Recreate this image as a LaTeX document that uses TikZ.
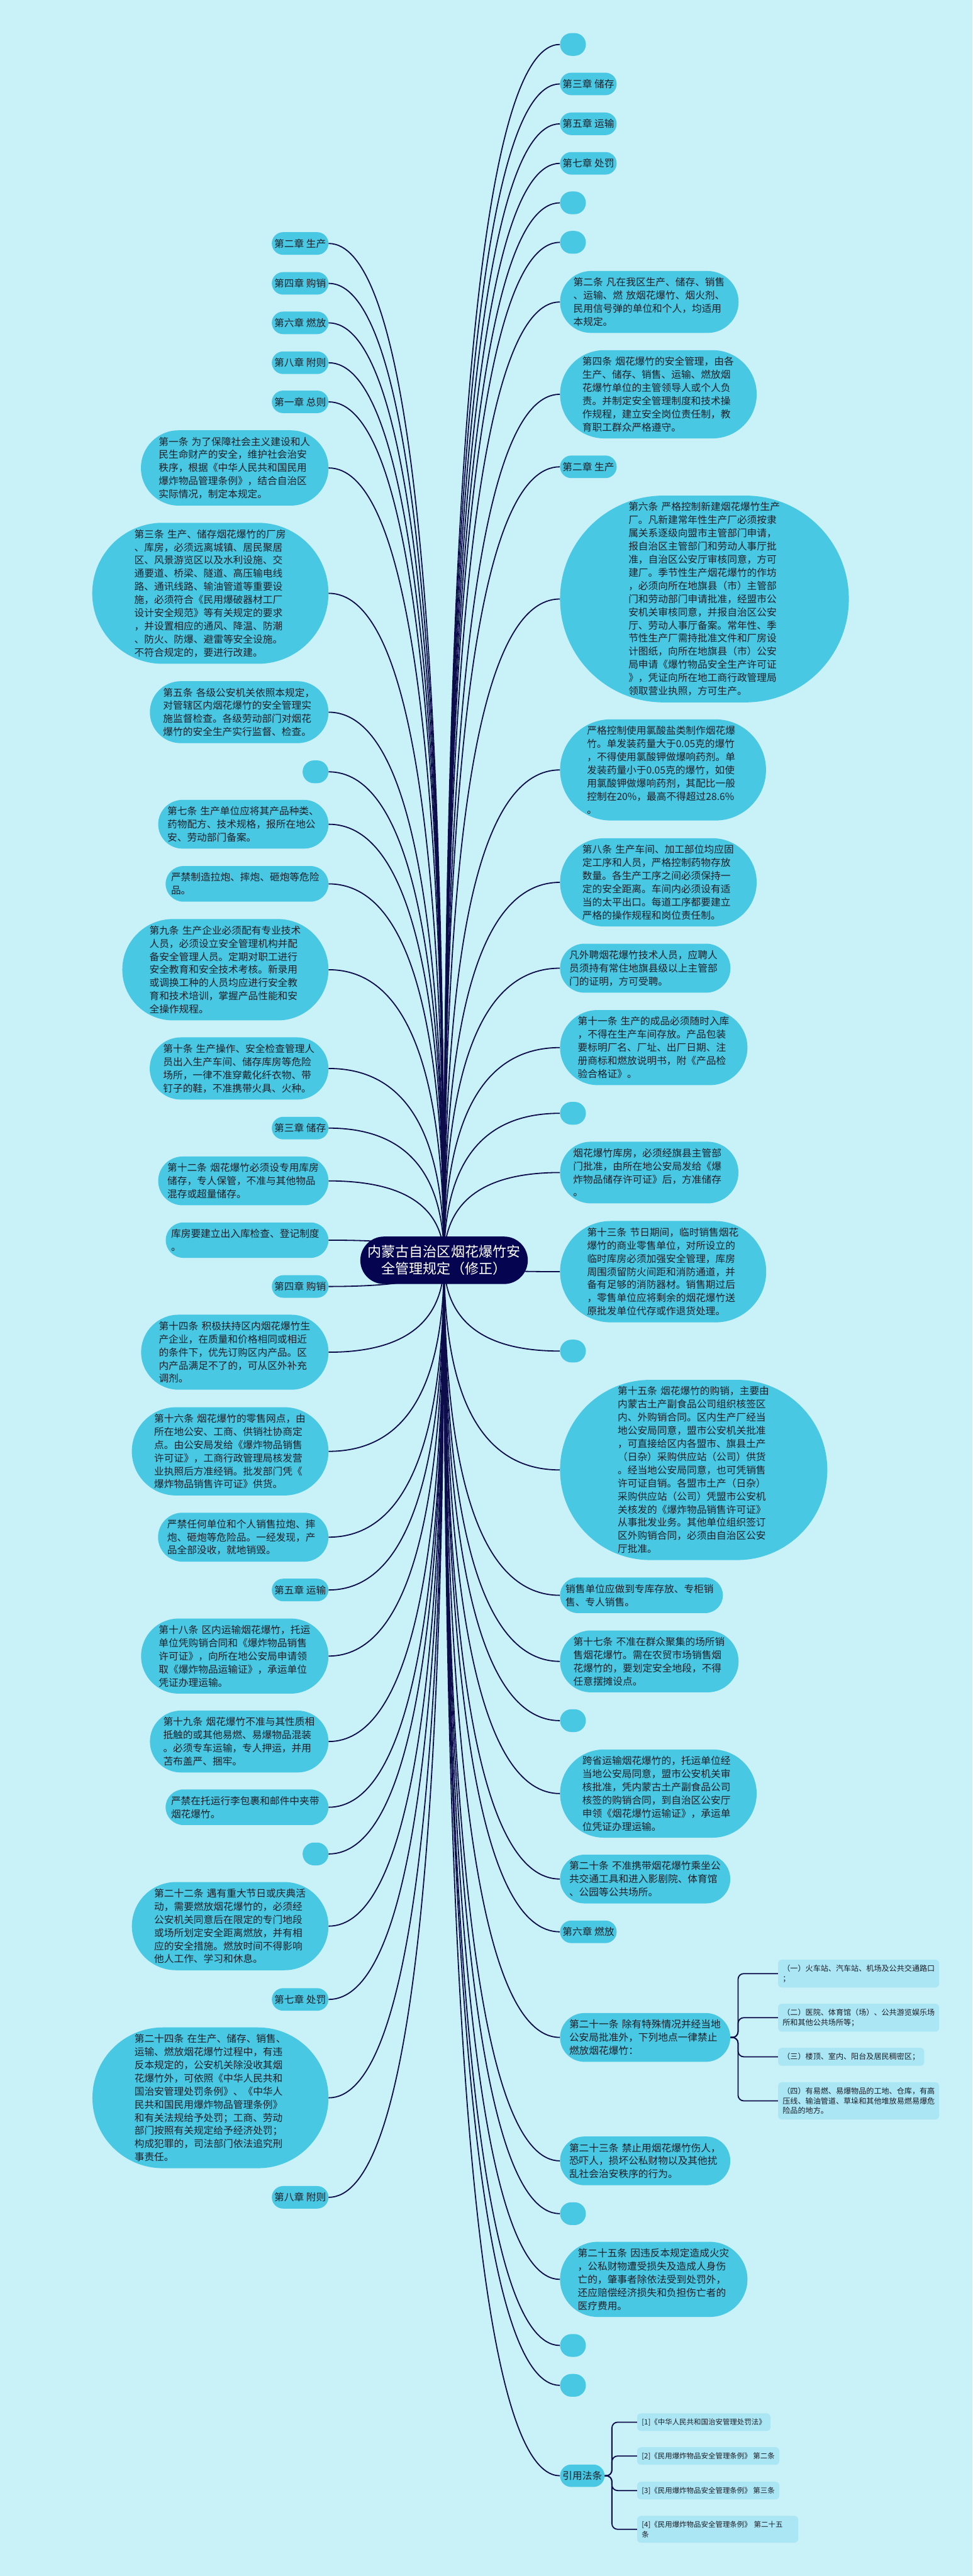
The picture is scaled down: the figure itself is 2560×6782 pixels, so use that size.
\documentclass[tikz,border=0pt]{standalone}
\usepackage{fontspec}
\setmainfont{Noto Sans CJK SC}
\usetikzlibrary{calc, shapes.misc, backgrounds}
\definecolor{BgCyan}{RGB}{201,241,248}
\definecolor{NodeCyan}{RGB}{72,200,226}
\definecolor{PaleCyan}{RGB}{170,230,243}
\definecolor{DarkNavy}{RGB}{4,4,80}
\definecolor{LinkNavy}{RGB}{12,12,74}
\definecolor{InkText}{RGB}{30,30,40}

\begin{document}
\begin{tikzpicture}[x=0.02cm, y=-0.02cm,
  link/.style={LinkNavy, line width=0.06cm},
  leaf/.style={rounded rectangle, fill=NodeCyan, text=InkText, align=left,
    inner xsep=0.08cm, inner ysep=0.35cm, font=\fontsize{14.8pt}{19.7pt}\selectfont},
  para/.style={leaf, text width=8cm},
  blank/.style={leaf, minimum width=1.36cm, minimum height=1.2cm, inner sep=0pt},
  sub/.style={rectangle, rounded corners=0.2cm, fill=PaleCyan, text=InkText, align=left,
    inner xsep=0.24cm, inner ysep=0.27cm, font=\fontsize{11.4pt}{14.8pt}\selectfont},
  root/.style={rounded rectangle, fill=DarkNavy, text=white, align=center,
    inner xsep=0.1cm, inner ysep=0.45cm, font=\fontsize{20.8pt}{26pt}\selectfont}]

\useasboundingbox (0,0) rectangle (2560,6782);

% nodo central
\node[root] (root) at (1169,3318) {内蒙古自治区烟花爆竹安\\全管理规定（修正）};

% ramas izquierda (anchor east en x=865)
\node[leaf, anchor=east] (l1) at (865,641) {第二章 生产};
\node[leaf, anchor=east] (l2) at (865,746) {第四章 购销};
\node[leaf, anchor=east] (l3) at (865,850) {第六章 燃放};
\node[leaf, anchor=east] (l4) at (865,955) {第八章 附则};
\node[leaf, anchor=east] (l5) at (865,1058) {第一章 总则};
\node[para, anchor=east] (l6) at (865,1232) {第一条 为了保障社会主义建设和人\\民生命财产的安全，维护社会治安\\秩序，根据《中华人民共和国民用\\爆炸物品管理条例》，结合自治区\\实际情况，制定本规定。};
\node[para, anchor=east] (l7) at (865,1562) {第三条 生产、储存烟花爆竹的厂房\\、库房，必须远离城镇、居民聚居\\区、风景游览区以及水利设施、交\\通要道、桥梁、隧道、高压输电线\\路、通讯线路、输油管道等重要设\\施，必须符合《民用爆破器材工厂\\设计安全规范》等有关规定的要求\\，并设置相应的通风、降温、防潮\\、防火、防爆、避雷等安全设施。\\不符合规定的，要进行改建。};
\node[para, anchor=east] (l8) at (865,1875) {第五条 各级公安机关依照本规定，\\对管辖区内烟花爆竹的安全管理实\\施监督检查。各级劳动部门对烟花\\爆竹的安全生产实行监督、检查。};
\node[blank, anchor=east] (l9) at (865,2032) {};
\node[para, anchor=east] (l10) at (865,2170) {第七条 生产单位应将其产品种类、\\药物配方、技术规格，报所在地公\\安、劳动部门备案。};
\node[para, anchor=east] (l11) at (865,2327) {严禁制造拉炮、摔炮、砸炮等危险\\品。};
\node[para, anchor=east] (l12) at (865,2553) {第九条 生产企业必须配有专业技术\\人员，必须设立安全管理机构并配\\备安全管理人员。定期对职工进行\\安全教育和安全技术考核。新录用\\或调换工种的人员均应进行安全教\\育和技术培训，掌握产品性能和安\\全操作规程。};
\node[para, anchor=east] (l13) at (865,2813) {第十条 生产操作、安全检查管理人\\员出入生产车间、储存库房等危险\\场所，一律不准穿戴化纤衣物、带\\钉子的鞋，不准携带火具、火种。};
\node[leaf, anchor=east] (l14) at (865,2970) {第三章 储存};
\node[para, anchor=east] (l15) at (865,3109) {第十二条 烟花爆竹必须设专用库房\\储存，专人保管，不准与其他物品\\混存或超量储存。};
\node[para, anchor=east] (l16) at (865,3265) {库房要建立出入库检查、登记制度\\。};
\node[leaf, anchor=east] (l17) at (865,3387) {第四章 购销};
\node[para, anchor=east] (l18) at (865,3560) {第十四条 积极扶持区内烟花爆竹生\\产企业，在质量和价格相同或相近\\的条件下，优先订购区内产品。区\\内产品满足不了的，可从区外补充\\调剂。};
\node[para, anchor=east] (l19) at (865,3821) {第十六条 烟花爆竹的零售网点，由\\所在地公安、工商、供销社协商定\\点。由公安局发给《爆炸物品销售\\许可证》，工商行政管理局核发营\\业执照后方准经销。批发部门凭《\\爆炸物品销售许可证》供货。};
\node[para, anchor=east] (l20) at (865,4047) {严禁任何单位和个人销售拉炮、摔\\炮、砸炮等危险品。一经发现，产\\品全部没收，就地销毁。};
\node[leaf, anchor=east] (l21) at (865,4186) {第五章 运输};
\node[para, anchor=east] (l22) at (865,4360) {第十八条 区内运输烟花爆竹，托运\\单位凭购销合同和《爆炸物品销售\\许可证》，向所在地公安局申请领\\取《爆炸物品运输证》，承运单位\\凭证办理运输。};
\node[para, anchor=east] (l23) at (865,4585) {第十九条 烟花爆竹不准与其性质相\\抵触的或其他易燃、易爆物品混装\\。必须专车运输，专人押运，并用\\苫布盖严、捆牢。};
\node[para, anchor=east] (l24) at (865,4758) {严禁在托运行李包裹和邮件中夹带\\烟花爆竹。};
\node[blank, anchor=east] (l25) at (865,4881) {};
\node[para, anchor=east] (l26) at (865,5071) {第二十二条 遇有重大节日或庆典活\\动，需要燃放烟花爆竹的，必须经\\公安机关同意后在限定的专门地段\\或场所划定安全距离燃放，并有相\\应的安全措施。燃放时间不得影响\\他人工作、学习和休息。};
\node[leaf, anchor=east] (l27) at (865,5264) {第七章 处罚};
\node[para, anchor=east] (l28) at (865,5523) {第二十四条 在生产、储存、销售、\\运输、燃放烟花爆竹过程中，有违\\反本规定的，公安机关除没收其烟\\花爆竹外，可依照《中华人民共和\\国治安管理处罚条例》、《中华人\\民共和国民用爆炸物品管理条例》\\和有关法规给予处罚；工商、劳动\\部门按照有关规定给予经济处罚；\\构成犯罪的，司法部门依法追究刑\\事责任。};
\node[leaf, anchor=east] (l29) at (865,5785) {第八章 附则};

% ramas derecha (anchor west en x=1474)
\node[blank, anchor=west] (r1) at (1474,117) {};
\node[leaf, anchor=west] (r2) at (1474,221) {第三章 储存};
\node[leaf, anchor=west] (r3) at (1474,326) {第五章 运输};
\node[leaf, anchor=west] (r4) at (1474,430) {第七章 处罚};
\node[blank, anchor=west] (r5) at (1474,534) {};
\node[blank, anchor=west] (r6) at (1474,638) {};
\node[para, anchor=west] (r7) at (1474,795) {第二条 凡在我区生产、储存、销售\\、运输、燃 放烟花爆竹、烟火剂、\\民用信号弹的单位和个人，均适用\\本规定。};
\node[para, anchor=west] (r8) at (1474,1038) {第四条 烟花爆竹的安全管理，由各\\生产、储存、销售、运输、燃放烟\\花爆竹单位的主管领导人或个人负\\责。并制定安全管理制度和技术操\\作规程，建立安全岗位责任制，教\\育职工群众严格遵守。};
\node[leaf, anchor=west] (r9) at (1474,1229) {第二章 生产};
\node[para, anchor=west] (r10) at (1474,1577) {第六条 严格控制新建烟花爆竹生产\\厂。凡新建常年性生产厂必须按隶\\属关系逐级向盟市主管部门申请，\\报自治区主管部门和劳动人事厅批\\准，自治区公安厅审核同意，方可\\建厂。季节性生产烟花爆竹的作坊\\，必须向所在地旗县（市）主管部\\门和劳动部门申请批准，经盟市公\\安机关审核同意，并报自治区公安\\厅、劳动人事厅备案。常年性、季\\节性生产厂需持批准文件和厂房设\\计图纸，向所在地旗县（市）公安\\局申请《爆竹物品安全生产许可证\\》，凭证向所在地工商行政管理局\\领取营业执照，方可生产。};
\node[para, anchor=west] (r11) at (1474,2027) {严格控制使用氯酸盐类制作烟花爆\\竹。单发装药量大于0.05克的爆竹\\，不得使用氯酸钾做爆响药剂。单\\发装药量小于0.05克的爆竹，如使\\用氯酸钾做爆响药剂，其配比一般\\控制在20\%，最高不得超过28.6\%\\。};
\node[para, anchor=west] (r12) at (1474,2323) {第八条 生产车间、加工部位均应固\\定工序和人员，严格控制药物存放\\数量。各生产工序之间必须保持一\\定的安全距离。车间内必须设有适\\当的太平出口。每道工序都要建立\\严格的操作规程和岗位责任制。};
\node[para, anchor=west] (r13) at (1474,2549) {凡外聘烟花爆竹技术人员，应聘人\\员须持有常住地旗县级以上主管部\\门的证明，方可受聘。};
\node[para, anchor=west] (r14) at (1474,2758) {第十一条 生产的成品必须随时入库\\，不得在生产车间存放。产品包装\\要标明厂名、厂址、出厂日期、注\\册商标和燃放说明书，附《产品检\\验合格证》。};
\node[blank, anchor=west] (r15) at (1474,2931) {};
\node[para, anchor=west] (r16) at (1474,3087) {烟花爆竹库房，必须经旗县主管部\\门批准，由所在地公安局发给《爆\\炸物品储存许可证》后，方准储存\\。};
\node[para, anchor=west] (r17) at (1474,3348) {第十三条 节日期间，临时销售烟花\\爆竹的商业零售单位，对所设立的\\临时库房必须加强安全管理，库房\\周围须留防火间距和消防通道，并\\备有足够的消防器材。销售期过后\\，零售单位应将剩余的烟花爆竹送\\原批发单位代存或作退货处理。};
\node[blank, anchor=west] (r18) at (1474,3557) {};
\node[para, anchor=west] (r19) at (1474,3870) {第十五条 烟花爆竹的购销，主要由\\内蒙古土产副食品公司组织核签区\\内、外购销合同。区内生产厂经当\\地公安局同意，盟市公安机关批准\\，可直接给区内各盟市、旗县土产\\（日杂）采购供应站（公司）供货\\。经当地公安局同意，也可凭销售\\许可证自销。各盟市土产（日杂）\\采购供应站（公司）凭盟市公安机\\关核发的《爆炸物品销售许可证》\\从事批发业务。其他单位组织签订\\区外购销合同，必须由自治区公安\\厅批准。};
\node[para, anchor=west] (r20) at (1474,4200) {销售单位应做到专库存放、专柜销\\售、专人销售。};
\node[para, anchor=west] (r21) at (1474,4374) {第十七条 不准在群众聚集的场所销\\售烟花爆竹。需在农贸市场销售烟\\花爆竹的，要划定安全地段，不得\\任意摆摊设点。};
\node[blank, anchor=west] (r22) at (1474,4530) {};
\node[para, anchor=west] (r23) at (1474,4722) {跨省运输烟花爆竹的，托运单位经\\当地公安局同意，盟市公安机关审\\核批准，凭内蒙古土产副食品公司\\核签的购销合同，到自治区公安厅\\申领《烟花爆竹运输证》，承运单\\位凭证办理运输。};
\node[para, anchor=west] (r24) at (1474,4947) {第二十条 不准携带烟花爆竹乘坐公\\共交通工具和进入影剧院、体育馆\\、公园等公共场所。};
\node[leaf, anchor=west] (r25) at (1474,5086) {第六章 燃放};
\node[para, anchor=west] (r26) at (1474,5364) {第二十一条 除有特殊情况并经当地\\公安局批准外，下列地点一律禁止\\燃放烟花爆竹：};
\node[para, anchor=west] (r27) at (1474,5689) {第二十三条 禁止用烟花爆竹伤人，\\恐吓人，损坏公私财物以及其他扰\\乱社会治安秩序的行为。};
\node[blank, anchor=west] (r28) at (1474,5828) {};
\node[para, anchor=west] (r29) at (1474,6001) {第二十五条 因违反本规定造成火灾\\，公私财物遭受损失及造成人身伤\\亡的，肇事者除依法受到处罚外，\\还应赔偿经济损失和负担伤亡者的\\医疗费用。};
\node[blank, anchor=west] (r30) at (1474,6175) {};
\node[blank, anchor=west] (r31) at (1474,6280) {};
\node[leaf, anchor=west] (r32) at (1474,6518) {引用法条};

% hojas del art. 21
\node[sub, text width=8cm, anchor=west] (s1) at (2048,5196) {（一）火车站、汽车站、机场及公共交通路口\\；};
\node[sub, text width=8cm, anchor=west] (s2) at (2048,5312) {（二）医院、体育馆（场）、公共游览娱乐场\\所和其他公共场所等；};
\node[sub, anchor=west] (s3) at (2048,5415) {（三）楼顶、室内、阳台及居民稠密区；};
\node[sub, text width=8cm, anchor=west] (s4) at (2048,5531) {（四）有易燃、易爆物品的工地、仓库，有高\\压线、输油管道、草垛和其他堆放易燃易爆危\\险品的地方。};

% referencias
\node[sub, font=\fontsize{10.8pt}{14.8pt}\selectfont, anchor=west] (f1) at (1677,6377) {[1]《中华人民共和国治安管理处罚法》};
\node[sub, font=\fontsize{10.8pt}{14.8pt}\selectfont, anchor=west] (f2) at (1677,6466) {[2]《民用爆炸物品安全管理条例》 第二条};
\node[sub, font=\fontsize{10.8pt}{14.8pt}\selectfont, anchor=west] (f3) at (1677,6557) {[3]《民用爆炸物品安全管理条例》 第三条};
\node[sub, font=\fontsize{10.8pt}{14.8pt}\selectfont, text width=8cm, anchor=west] (f4) at (1677,6659) {[4]《民用爆炸物品安全管理条例》 第二十五\\条};

% conectores
\begin{pgfonlayer}{background}
\fill[BgCyan] (0,0) rectangle (2560,6782);
\foreach \i in {1,...,29}{
  \draw[link] (root.center) .. controls ($(root.center)!2/3!(root.center |- l\i.east)$)
    and ($(l\i.east)!2/3!(root.center |- l\i.east)$) .. (l\i.east);
}
\foreach \i in {1,...,32}{
  \draw[link] (root.center) .. controls ($(root.center)!2/3!(root.center |- r\i.west)$)
    and ($(r\i.west)!2/3!(root.center |- r\i.west)$) .. (r\i.west);
}
\foreach \k in {1,...,4}{
  \draw[link, rounded corners=0.3cm] (r26.east) -- ++(20,0) |- (s\k.west);
  \draw[link, rounded corners=0.3cm] (r32.east) -- ++(19,0) |- (f\k.west);
}
\end{pgfonlayer}

\end{tikzpicture}
\end{document}
